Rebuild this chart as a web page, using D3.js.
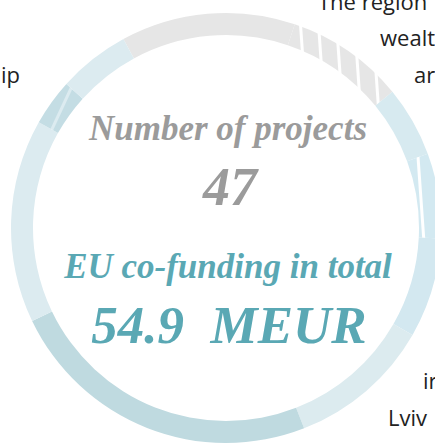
<!DOCTYPE html>
<html>
<head>
<meta charset="utf-8">
<script src="https://cdn.jsdelivr.net/npm/d3@7"></script>
<style>
body{margin:0;background:#fff;overflow:hidden}
svg{display:block}
</style>
</head>
<body>
<div id="chart"></div>
<script>
// ring segments, share of the circle (percent), clockwise from the grey one
var segShare = [13.1, 8.9, 5.3, 6.4, 7.5, 10.8, 23.8, 15.3, 3.5, 5.4]
var segColor = ["#e6e6e6","#e6e6e6","#d7eaf0","#d3e9f1","#d3e8f0","#dcebef","#bfdae0","#dcebf0","#c4dde4","#dcebf0"]
var segStriped = [false,true,false,true,false,false,false,false,true,false]

var projectsLabel = "Number of projects"
var projectsValue = "47"
var fundingLabel = "EU co-funding in total"
var fundingValue = "54.9  MEUR"

// partial labels cut off by the frame
var sideLabels = ["The region","wealt","ar","ip","ir","Lviv"]

var W = 435, H = 444
var cx = 226, cy = 228

var svg = d3.select("#chart").append("svg").attr("width",W).attr("height",H)
var defs = svg.append("defs")

var pie = d3.pie().sort(null).value(function(d){return d})
    .startAngle(-28.5*Math.PI/180).endAngle((360-28.5)*Math.PI/180)
var arc = d3.arc().innerRadius(193).outerRadius(215)

var arcs = pie(segShare)

// stripe patterns: base colour with thin white gaps
segStriped.forEach(function(s,i){
    if(!s) return
    var p = defs.append("pattern").attr("id","stripe"+i)
        .attr("patternUnits","userSpaceOnUse").attr("width",18).attr("height",18)
        .attr("patternTransform", i==8 ? "rotate(25)" : "rotate(-4)")
    p.append("rect").attr("width",18).attr("height",18).attr("fill",segColor[i])
    p.append("rect").attr("x",15).attr("width",i==8 ? 5 : 3).attr("height",18)
        .attr("fill", i==8 ? "#dcebf0" : "#fff")
})

var g = svg.append("g").attr("transform","translate("+cx+","+cy+")")
g.selectAll("path")
    .data(arcs)
    .enter()
    .append("path")
    .attr("d",arc)
    .attr("fill",function(d,i){return segStriped[i] ? "url(#stripe"+i+")" : segColor[i]})

// centre texts
var serif = "'Liberation Serif','Times New Roman',serif"
svg.append("text").text(projectsLabel).attr("x",228).attr("y",140)
    .attr("text-anchor","middle").attr("font-family",serif).attr("font-style","italic")
    .attr("font-weight","bold").attr("font-size","35px").attr("fill","#9b9b9b")
svg.append("text").text(projectsValue).attr("x",230).attr("y",205)
    .attr("text-anchor","middle").attr("font-family",serif).attr("font-style","italic")
    .attr("font-weight","bold").attr("font-size","54px").attr("fill","#9b9b9b")
svg.append("text").text(fundingLabel).attr("x",228).attr("y",278)
    .attr("text-anchor","middle").attr("font-family",serif).attr("font-style","italic")
    .attr("font-weight","bold").attr("font-size","35px").attr("fill","#5aa8b4")
svg.append("text").text(fundingValue).attr("x",229).attr("y",343)
    .attr("text-anchor","middle").attr("font-family",serif).attr("font-style","italic")
    .attr("font-weight","bold").attr("font-size","53px").attr("fill","#5aa8b4")
    .style("white-space","pre")

// side labels
var sidePos = [[318,10],[380,46],[414,83],[1,83],[423,389],[388,426]]
svg.selectAll(".side")
    .data(sideLabels)
    .enter()
    .append("text")
    .attr("class","side")
    .text(function(d){return d})
    .attr("x",function(d,i){return sidePos[i][0]})
    .attr("y",function(d,i){return sidePos[i][1]})
    .attr("font-family","'Open Sans',sans-serif")
    .attr("font-size","22px")
    .attr("fill","#222")
</script>
</body>
</html>
